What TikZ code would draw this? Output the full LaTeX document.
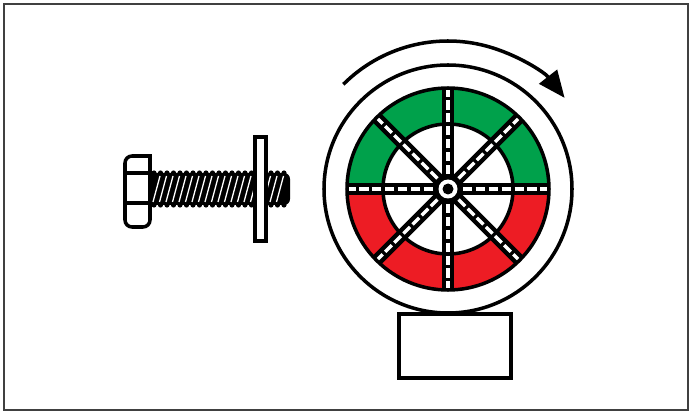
\documentclass[tikz,border=0pt]{standalone}
\usetikzlibrary{arrows.meta}
\definecolor{wheelgreen}{RGB}{0,161,75}
\definecolor{wheelred}{RGB}{237,28,36}

\begin{document}
\begin{tikzpicture}[x=0.03cm,y=0.03cm,
  outline/.style={draw=black,line width=3pt},
  spoke/.style={line width=10.5pt},
  spoke dash/.style={white,line width=2.8pt,dash pattern=on 8pt off 3pt},
  thread/.style={white,line width=1.1pt}]
  \useasboundingbox (0,0) rectangle (690,412);
  \draw[line width=1.7pt,black!75] (4,2) rectangle (688,408);

  \coordinate (C) at (448,223);

  % bolt: head, threaded shank, washer
  \draw[outline] (150,256) [rounded corners=6pt] -- (125,256) -- (125,185)
    -- (150,185) [sharp corners] -- cycle;
  \draw[outline] (125,239) -- (150,239) (125,209) -- (150,209);
  \fill[rounded corners=5pt] (150,207) rectangle (290,239);
  \foreach \x in {154,160.5,...,284}
    \fill (\x,239) circle (2.6) (\x,207) circle (2.6);
  \foreach \x in {153,159.5,...,280}
    \draw[thread] (\x,210) -- (\x+7,236);
  \draw[line width=3.4pt,fill=white] (255,171) rectangle (266,275);

  % wheel
  \fill[wheelgreen] (C) ++(0:101) arc[start angle=0,end angle=180,radius=101]
    -- ++(36,0) arc[start angle=180,end angle=0,radius=65] -- cycle;
  \fill[wheelred] (C) ++(0:101) arc[start angle=0,end angle=-180,radius=101]
    -- ++(36,0) arc[start angle=-180,end angle=0,radius=65] -- cycle;
  \draw[outline] (C) circle (101) (C) circle (65) (C) circle (124);
  \foreach \a in {0,45,...,315}
    \draw[spoke] (C) -- ++(\a:101);
  \foreach \a in {0,45,...,315}
    \draw[spoke dash] (C) ++(\a:15) -- ++(\a:84);
  \fill (C) circle (12.5);
  \fill[white] (C) circle (9.5);
  \fill (C) circle (5.5);

  % rotation arrow
  \draw[line width=3pt,-{Triangle[length=23pt,width=19pt]}]
    (C) ++(135:148) arc[start angle=135,end angle=38,radius=148];

  % base block
  \draw[line width=3.6pt] (399,34) rectangle (511,98);
\end{tikzpicture}
\end{document}
